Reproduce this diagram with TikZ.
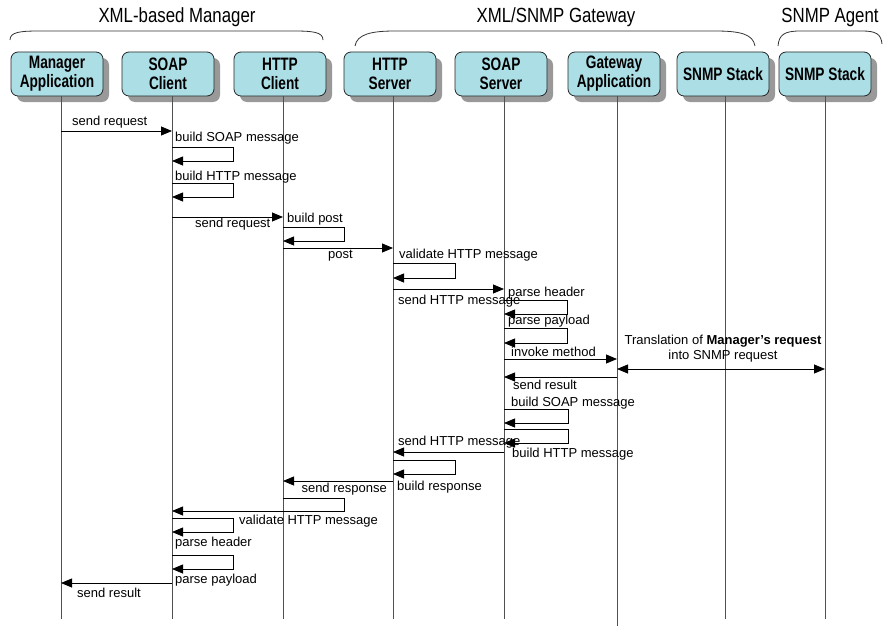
\documentclass[tikz,border=0pt]{standalone}
\usepackage{fontspec}
\setmainfont{Liberation Sans}
\newfontfamily\narrowfont[FakeStretch=0.82]{Liberation Sans}
\newfontfamily\boxfont[FakeStretch=0.76]{Liberation Sans}
\usetikzlibrary{arrows.meta,shadows}
\definecolor{objfill}{RGB}{172,222,230}
\definecolor{lifegray}{RGB}{80,80,80}

\begin{document}
\begin{tikzpicture}[x=1pt,y=-1pt,
  obj/.style={draw=black!85, line width=0.8pt, rounded corners=7pt, fill=objfill,
    minimum width=92pt, minimum height=44pt, inner sep=0pt, align=center,
    font=\boxfont\bfseries\fontsize{18}{19}\selectfont,
    drop shadow={shadow xshift=6pt, shadow yshift=-6pt, fill=black!40, opacity=1}},
  lifeline/.style={draw=lifegray, line width=0.9pt},
  tip/.style={Triangle[length=11pt,width=9pt]},
  msg/.style={draw=black, line width=0.8pt, -{Triangle[length=11pt,width=9pt]}},
  dmsg/.style={draw=black, line width=0.8pt, {Triangle[length=11pt,width=9pt]}-{Triangle[length=11pt,width=9pt]}},
  grp/.style={draw=black!80, line width=0.8pt},
  grptitle/.style={font=\narrowfont\fontsize{20.5}{22}\selectfont, inner sep=0pt},
  lbl/.style={font=\fontsize{13}{15}\selectfont, inner sep=0pt, anchor=west}]

\useasboundingbox (0,0) rectangle (883,626);

% group titles and brackets
\node[grptitle] (t-mgr) at (177,17) {XML-based Manager};
\node[grptitle] (t-gw)  at (556,17) {XML/SNMP Gateway};
\node[grptitle] (t-ag)  at (830,17) {SNMP Agent};
\draw[grp] (10,40) .. controls (10,32) and (20,31) .. (40,31) -- (293,31) .. controls (313,31) and (323,32) .. (323,40);
\draw[grp] (355,46) .. controls (357,34) and (372,31) .. (395,31) -- (715,31) .. controls (740,31) and (753,34) .. (755,46);
\draw[grp] (778,46) .. controls (779,35) and (784,31) .. (800,31) -- (862,31) .. controls (876,31) and (881,34) .. (882,44);

% participants
\node[obj] (ma) at (57,74)  {Manager\\Application};
\node[obj] (sc) at (168,74) {SOAP\\Client};
\node[obj] (hc) at (280,74) {HTTP\\Client};
\node[obj] (hs) at (390,74) {HTTP\\Server};
\node[obj] (ss) at (501,74) {SOAP\\Server};
\node[obj] (ga) at (614,74) {Gateway\\Application};
\node[obj] (st) at (723,74) {SNMP Stack};
\node[obj] (ag) at (825,74) {SNMP Stack};

% lifelines
\coordinate (ma-end) at (61,619);
\coordinate (sc-end) at (172,619);
\coordinate (hc-end) at (283,619);
\coordinate (hs-end) at (393,619);
\coordinate (ss-end) at (504,619);
\coordinate (ga-end) at (617,626);
\coordinate (st-end) at (725,619);
\coordinate (ag-end) at (825,619);
\foreach \p in {ma,sc,hc,hs,ss,ga,st,ag}
  \draw[lifeline] (\p-end |- \p.south) -- (\p-end);

% request path
\draw[msg] (ma-end |- 0,131) -- (sc-end |- 0,131);
\node[lbl] (l1) at (72,122) {send request};

\draw[msg] (sc-end |- 0,147) -- (233,147) -- (233,161) -- (sc-end |- 0,161);
\node[lbl] (l2) at (175,138) {build SOAP message};
\draw[msg] (sc-end |- 0,183) -- (233,183) -- (233,197) -- (sc-end |- 0,197);
\node[lbl] (l3) at (175,177) {build HTTP message};

\draw[msg] (sc-end |- 0,217) -- (hc-end |- 0,217);
\node[lbl] (l4) at (195,224) {send request};

\draw[msg] (hc-end |- 0,227) -- (344,227) -- (344,241) -- (hc-end |- 0,241);
\node[lbl] (l5) at (287,219) {build post};

\draw[msg] (hc-end |- 0,248) -- (hs-end |- 0,248);
\node[lbl] (l6) at (328,256) {post};

\draw[msg] (hs-end |- 0,263) -- (455,263) -- (455,278) -- (hs-end |- 0,278);
\node[lbl] (l7) at (399,255) {validate HTTP message};

\draw[msg] (hs-end |- 0,289) -- (ss-end |- 0,289);
\node[lbl] (l8) at (398,301) {send HTTP message};

\draw[msg] (ss-end |- 0,300) -- (567,300) -- (567,314) -- (ss-end |- 0,314);
\node[lbl] (l9) at (508,293) {parse header};
\draw[msg] (ss-end |- 0,328) -- (567,328) -- (567,343) -- (ss-end |- 0,343);
\node[lbl] (l10) at (508,321) {parse payload};

\draw[msg] (ss-end |- 0,359) -- (ga-end |- 0,359);
\node[lbl] (l11) at (511,352) {invoke method};

\draw[dmsg] (ga-end |- 0,369) -- (ag-end |- 0,369);
\node[lbl, anchor=center, align=center] (l12) at (723,349)
  {Translation of \textbf{Manager’s request}\\into SNMP request};

% response path
\draw[msg] (ga-end |- 0,377) -- (ss-end |- 0,377);
\node[lbl] (l13) at (513,385) {send result};

\draw[msg] (ss-end |- 0,409) -- (568,409) -- (568,423) -- (ss-end |- 0,423);
\node[lbl] (l14) at (511,403) {build SOAP message};
\draw[msg] (ss-end |- 0,429) -- (568,429) -- (568,443) -- (ss-end |- 0,443);
\node[lbl] (l15) at (512,454) {build HTTP message};

\draw[msg] (ss-end |- 0,452) -- (hs-end |- 0,452);
\node[lbl] (l16) at (398,442) {send HTTP message};

\draw[msg] (hs-end |- 0,460) -- (455,460) -- (455,474) -- (hs-end |- 0,474);
\node[lbl] (l17) at (397,487) {build response};

\draw[msg] (hs-end |- 0,481) -- (hc-end |- 0,481);
\node[lbl, anchor=east] (l18) at (387,489) {send response};

\draw[msg] (hc-end |- 0,498) -- (344,498) -- (344,511) -- (sc-end |- 0,511);

\draw[msg] (sc-end |- 0,518) -- (233,518) -- (233,532) -- (sc-end |- 0,532);
\node[lbl] (l19) at (239,521) {validate HTTP message};
\draw[msg] (sc-end |- 0,555) -- (233,555) -- (233,569) -- (sc-end |- 0,569);
\node[lbl] (l20) at (175,543) {parse header};
\node[lbl] (l21) at (175,580) {parse payload};

\draw[msg] (sc-end |- 0,583) -- (ma-end |- 0,583);
\node[lbl] (l22) at (77,593) {send result};

\end{tikzpicture}
\end{document}
